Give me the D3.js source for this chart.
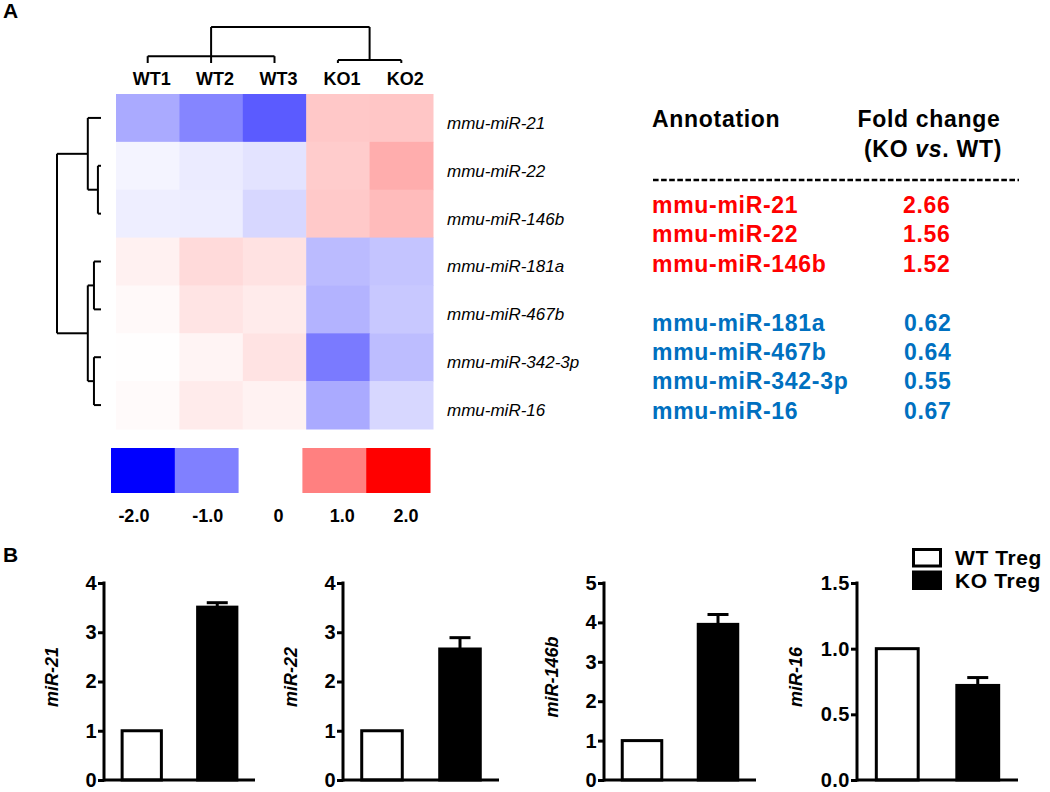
<!DOCTYPE html>
<html><head><meta charset="utf-8">
<script src="https://cdn.jsdelivr.net/npm/d3@7"></script>
<style>
body{margin:0;background:#fff;}
svg{display:block;font-family:"Liberation Sans",Arial,sans-serif;}
</style></head>
<body><svg id="c" width="1050" height="792"></svg>
<script>
// ---------- DATA ----------
const heatCols = ["WT1","WT2","WT3","KO1","KO2"];
const heatRows = ["mmu-miR-21","mmu-miR-22","mmu-miR-146b","mmu-miR-181a","mmu-miR-467b","mmu-miR-342-3p","mmu-miR-16"];
const heatValues = [
  [-0.67,-0.96,-1.29, 0.43, 0.45],
  [-0.09,-0.16,-0.22, 0.40, 0.64],
  [-0.13,-0.14,-0.31, 0.42, 0.53],
  [ 0.11, 0.29, 0.23,-0.53,-0.46],
  [ 0.05, 0.21, 0.16,-0.60,-0.43],
  [ 0.01, 0.09, 0.22,-1.04,-0.52],
  [ 0.04, 0.16, 0.10,-0.67,-0.31]
];
const rowTree = {h:1, children:[
  {h:0.30, children:[{name:"mmu-miR-21"},{h:0.07, children:[{name:"mmu-miR-22"},{name:"mmu-miR-146b"}]}]},
  {h:0.30, children:[{h:0.16, children:[{name:"mmu-miR-181a"},{name:"mmu-miR-467b"}]},
                     {h:0.16, children:[{name:"mmu-miR-342-3p"},{name:"mmu-miR-16"}]}]}
]};
const colTree = {h:1, children:[
  {h:0.19, children:[{name:"WT1"},{name:"WT2"},{name:"WT3"}]},
  {h:0.08, children:[{name:"KO1"},{name:"KO2"}]}
]};
const legendValues = [-2,-1,0,1,2];
const legendLabels = ["-2.0","-1.0","0","1.0","2.0"];

const annotUp = ["mmu-miR-21","mmu-miR-22","mmu-miR-146b"];
const foldUp = ["2.66","1.56","1.52"];
const annotDown = ["mmu-miR-181a","mmu-miR-467b","mmu-miR-342-3p","mmu-miR-16"];
const foldDown = ["0.62","0.64","0.55","0.67"];

const barGenes = ["miR-21","miR-22","miR-146b","miR-16"];
const barGroups = ["WT Treg","KO Treg"];
const wtValues = [1,1,1,1];
const koValues = [3.51,2.66,3.95,0.72];
const koErrors = [0.09,0.23,0.25,0.06];
const yMaxes = [4,4,5,1.5];
const yTickValues = [[0,1,2,3,4],[0,1,2,3,4],[0,1,2,3,4,5],[0,0.5,1.0,1.5]];

// ---------- DRAW ----------
const svg = d3.select("#c");
const RED = "#ff0000", BLUE = "#0070c0";

svg.append("text").attr("x",3).attr("y",18).attr("font-size",21).attr("font-weight","bold").text("A");
svg.append("text").attr("x",3).attr("y",562).attr("font-size",21).attr("font-weight","bold").text("B");

// Heatmap
const hx = d3.scaleBand().domain(heatCols).range([116,433]);
const hy = d3.scaleBand().domain(heatRows).range([94,429]);
const color = d3.scaleLinear().domain([-2,0,2]).range(["#0000ff","#ffffff","#ff0000"]);

const cells = [];
heatRows.forEach((r,i)=>heatCols.forEach((c,j)=>cells.push({r,c,v:heatValues[i][j]})));
svg.append("g").selectAll("rect").data(cells).join("rect")
  .attr("x",d=>hx(d.c)).attr("y",d=>hy(d.r))
  .attr("width",hx.bandwidth()+0.5).attr("height",hy.bandwidth()+0.5)
  .attr("fill",d=>color(d.v));

svg.append("g").selectAll("text").data(heatCols).join("text")
  .attr("x",d=>hx(d)+hx.bandwidth()/2+4).attr("y",85)
  .attr("text-anchor","middle").attr("font-size",18).attr("font-weight","bold").text(d=>d);

svg.append("g").selectAll("text").data(heatRows).join("text")
  .attr("x",447).attr("y",d=>hy(d)+hy.bandwidth()/2+5)
  .attr("dy","0.35em").attr("font-size",17).attr("font-style","italic").text(d=>d);

function dendro(tree, leafPos, hScale, vertical){
  const root = d3.hierarchy(tree);
  root.eachAfter(n=>{
    if(n.children){ n.pos=(n.children[0].pos+n.children[n.children.length-1].pos)/2; n.hv=n.data.h; }
    else { n.pos=leafPos(n.data.name); n.hv=0; }
  });
  const g = svg.append("g").attr("stroke","#000").attr("stroke-width",2).attr("fill","none");
  root.each(n=>{
    if(!n.children) return;
    const a=n.children[0].pos, b=n.children[n.children.length-1].pos, h=hScale(n.hv);
    if(vertical) g.append("line").attr("x1",h).attr("x2",h).attr("y1",a).attr("y2",b);
    else g.append("line").attr("y1",h).attr("y2",h).attr("x1",a).attr("x2",b);
    n.children.forEach(c=>{
      if(vertical) g.append("line").attr("y1",c.pos).attr("y2",c.pos).attr("x1",h).attr("x2",hScale(c.hv));
      else g.append("line").attr("x1",c.pos).attr("x2",c.pos).attr("y1",h).attr("y2",hScale(c.hv));
    });
  });
}
dendro(rowTree, n=>hy(n)+hy.bandwidth()/2, d3.scaleLinear().domain([0,1]).range([101,57]), true);
dendro(colTree, n=>hx(n)+hx.bandwidth()/2, d3.scaleLinear().domain([0,1]).range([63,27]), false);

// Color legend
const lx = d3.scaleBand().domain(legendValues).range([111,430]);
svg.append("g").selectAll("rect").data(legendValues).join("rect")
  .attr("x",d=>lx(d)).attr("y",448).attr("width",lx.bandwidth()+0.5).attr("height",45)
  .attr("fill",d=>color(d));
svg.append("g").selectAll("text").data(legendValues).join("text")
  .attr("x",d=>lx(d)+lx.bandwidth()/2+(d===-2?-9:(d===-1?1:8))).attr("y",522).attr("text-anchor","middle")
  .attr("font-size",18).attr("font-weight","bold").text((d,i)=>legendLabels[i]);

// Annotation table
const tg = svg.append("g").attr("font-weight","bold").attr("letter-spacing","0.7px");
tg.append("text").attr("x",652).attr("y",127).attr("font-size",23).text("Annotation");
tg.append("text").attr("x",929).attr("y",127).attr("font-size",23).attr("text-anchor","middle").text("Fold change");
const t2 = tg.append("text").attr("x",933).attr("y",157).attr("font-size",23).attr("text-anchor","middle");
t2.append("tspan").text("(KO ");
t2.append("tspan").attr("font-style","italic").text("vs");
t2.append("tspan").text(". WT)");
svg.append("line").attr("x1",653).attr("x2",1019).attr("y1",180).attr("y2",180)
  .attr("stroke","#000").attr("stroke-width",2.6).attr("stroke-dasharray","5.6,2.5");
const rowY = d3.scaleLinear().domain([0,1]).range([213,242.4]);
annotUp.forEach((a,i)=>{
  tg.append("text").attr("x",652).attr("y",rowY(i)).attr("font-size",23).attr("fill",RED).text(a);
  tg.append("text").attr("x",903).attr("y",rowY(i)).attr("font-size",23).attr("fill",RED).text(foldUp[i]);
});
annotDown.forEach((a,i)=>{
  tg.append("text").attr("x",652).attr("y",rowY(i+4)).attr("font-size",23).attr("fill",BLUE).text(a);
  tg.append("text").attr("x",904).attr("y",rowY(i+4)).attr("font-size",23).attr("fill",BLUE).text(foldDown[i]);
});

// Bar charts
const axisX = [104,343,604,857];
const axisW = [151,156,152,161];
barGenes.forEach((gene,i)=>{
  const g = svg.append("g").attr("transform",`translate(${axisX[i]},0)`);
  const y = d3.scaleLinear().domain([0,yMaxes[i]]).range([780,583]);
  const x = d3.scaleBand().domain(barGroups).range([0,axisW[i]]).paddingInner(0.48).paddingOuter(0.24);
  const vals = [wtValues[i],koValues[i]];
  const xc = x("KO Treg")+x.bandwidth()/2;
  g.append("line").attr("x1",xc).attr("x2",xc).attr("y1",y(koValues[i])).attr("y2",y(koValues[i]+koErrors[i]))
    .attr("stroke","#000").attr("stroke-width",3);
  g.append("line").attr("x1",xc-10.5).attr("x2",xc+10.5).attr("y1",y(koValues[i]+koErrors[i])).attr("y2",y(koValues[i]+koErrors[i]))
    .attr("stroke","#000").attr("stroke-width",3);
  g.selectAll("rect.bar").data(barGroups).join("rect").attr("class","bar")
    .attr("x",d=>x(d)).attr("width",x.bandwidth())
    .attr("y",(d,j)=>y(vals[j])).attr("height",(d,j)=>780-y(vals[j]))
    .attr("fill",(d,j)=>j===0?"#fff":"#000").attr("stroke","#000").attr("stroke-width",3);
  const ax = g.append("g").call(d3.axisLeft(y).tickValues(yTickValues[i]).tickSize(6).tickPadding(1)
      .tickFormat(i===3?d3.format(".1f"):d3.format("d")));
  ax.select(".domain").remove();
  ax.selectAll(".tick line").attr("stroke-width",3);
  ax.selectAll(".tick text").attr("font-size",20).attr("font-weight","bold").attr("letter-spacing","0.5px")
    .attr("font-family","Liberation Sans, Arial, sans-serif").attr("fill","#000");
  g.append("line").attr("x1",0).attr("x2",0).attr("y1",y(yMaxes[i])-1.5).attr("y2",781.5).attr("stroke","#000").attr("stroke-width",3);
  g.append("line").attr("x1",0).attr("x2",axisW[i]).attr("y1",780).attr("y2",780).attr("stroke","#000").attr("stroke-width",3);
  const bb = ax.node().getBBox();
  g.append("text").attr("transform",`translate(${bb.x/2-43},677) rotate(-90)`)
    .attr("text-anchor","middle").attr("dy","0.35em").attr("font-size",18)
    .attr("font-weight","bold").attr("font-style","italic").text(gene);
});

// bar legend
const lg = svg.append("g");
barGroups.forEach((d,i)=>{
  lg.append("rect").attr("x",913.5).attr("y",549.5+i*22.5).attr("width",27).attr("height",16.5)
    .attr("fill",i===0?"#fff":"#000").attr("stroke","#000").attr("stroke-width",3);
  lg.append("text").attr("x",955).attr("y",565+i*23.3).attr("font-size",21).attr("font-weight","bold")
    .attr("letter-spacing","0.6px").text(d);
});
</script></body></html>
